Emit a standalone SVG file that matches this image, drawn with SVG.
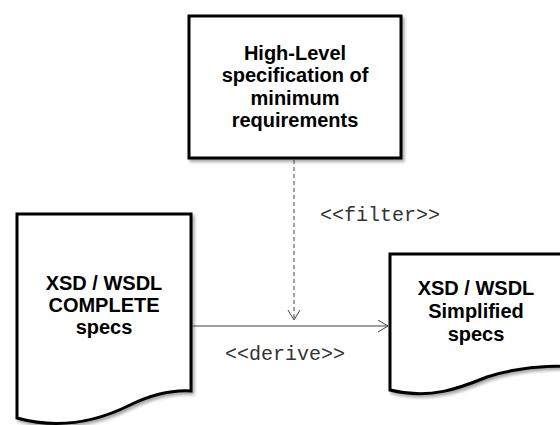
<svg xmlns="http://www.w3.org/2000/svg" width="560" height="425" viewBox="0 0 560 425">
  <defs>
    <filter id="shadow" x="-10%" y="-10%" width="130%" height="130%">
      <feDropShadow dx="2" dy="2.5" stdDeviation="1.5" flood-color="#000" flood-opacity="0.35"/>
    </filter>
    <marker id="open-arrow" markerWidth="12" markerHeight="14" refX="10" refY="6" orient="auto" markerUnits="userSpaceOnUse">
      <path d="M0,0 L10,6 L0,12" fill="none" stroke="#404040" stroke-width="1"/>
    </marker>
  </defs>
  <style>
    .shape { fill: #fff; stroke: #000; stroke-width: 3; stroke-linejoin: miter; }
    .label { font-family: "Liberation Sans", Arial, sans-serif; font-weight: bold; font-size: 20px; fill: #000; text-anchor: middle; }
    .stereo { font-family: "Liberation Mono", "Courier New", monospace; font-size: 20px; fill: #333; }
    .link { fill: none; stroke: #404040; stroke-width: 1; }
    .dashed { stroke-dasharray: 4 3; }
  </style>

  <!-- requirements box -->
  <g id="requirements">
    <rect class="shape" x="189" y="16" width="212" height="142" filter="url(#shadow)"/>
    <text class="label" x="295" y="60">High-Level</text>
    <text class="label" x="295" y="82">specification of</text>
    <text class="label" x="295" y="105">minimum</text>
    <text class="label" x="295" y="127">requirements</text>
  </g>

  <!-- complete specs document -->
  <g id="complete-specs">
    <path class="shape" filter="url(#shadow)" d="M17,214 H191 V391 C175,390 155,393 130,405 C100,420 60,430 17,418 Z"/>
    <text class="label" x="104" y="290">XSD / WSDL</text>
    <text class="label" x="104" y="312">COMPLETE</text>
    <text class="label" x="104" y="334">specs</text>
  </g>

  <!-- simplified specs document -->
  <g id="simplified-specs">
    <path class="shape" filter="url(#shadow)" d="M390,254 H564 V366 C545,366 515,368 487,377 C460,388 430,400 390,390 Z"/>
    <text class="label" x="476" y="295">XSD / WSDL</text>
    <text class="label" x="476" y="318">Simplified</text>
    <text class="label" x="476" y="341">specs</text>
  </g>

  <!-- connectors -->
  <g id="connectors">
    <line class="link dashed" x1="294" y1="160" x2="294" y2="320" marker-end="url(#open-arrow)"/>
    <text class="stereo" x="320" y="221">&lt;&lt;filter&gt;&gt;</text>
    <line class="link" x1="192" y1="326" x2="388" y2="326" marker-end="url(#open-arrow)"/>
    <text class="stereo" x="225" y="360">&lt;&lt;derive&gt;&gt;</text>
  </g>
</svg>
